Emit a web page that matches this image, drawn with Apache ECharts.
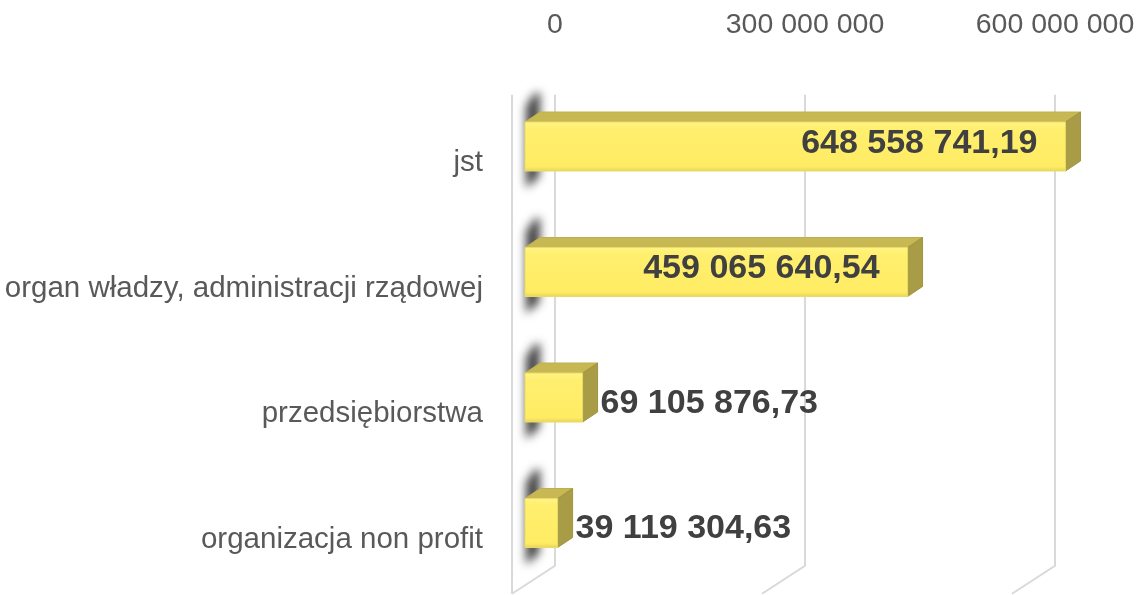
<!DOCTYPE html>
<html>
<head>
<meta charset="utf-8">
<script src="https://cdn.jsdelivr.net/npm/echarts@6/dist/echarts.min.js"></script>
<style>
  html, body { margin: 0; padding: 0; background: #fff; }
  #chart { width: 1137px; height: 595px; }
</style>
</head>
<body>
<div id="chart"></div>
<script>
// data
const categories = ['jst', 'organ władzy, administracji rządowej', 'przedsiębiorstwa', 'organizacja non profit'];
const values = [648558741.19, 459065640.54, 69105876.73, 39119304.63];
const tickValues = [0, 300000000, 600000000, 900000000];

const FONT = '"Liberation Sans", Arial, sans-serif';

function fmt(v, dec) {
	const parts = v.toFixed(dec).split('.');
	const s = parts[0].replace(/\B(?=(\d{3})+(?!\d))/g, ' ');
	return parts[1] ? s + ',' + parts[1] : s;
}

// 3d look: front plane is shifted left of the back wall
const FRONT_DX = -30;
const DEPTH_X = 15, DEPTH_Y = -10;

function renderBar(params, api) {
	const cat = api.value(1);
	const end = api.coord([api.value(0), cat]);
	const start = api.coord([0, cat]);
	const yc = end[1];
	const h = 24.5;
	const x0 = start[0] + FRONT_DX;
	const x1 = end[0] + FRONT_DX;
	const yt = yc - h, yb = yc + h;
	const wide = (x1 - x0) > 200;
	const off = -2000; // shape drawn off screen, only its blurred shadow shows
	return {
		type: 'group',
		children: [
			{
				// shadow cast on the left wall
				type: 'polygon',
				shape: { points: [[x0 + 1 + off, yt - 16], [x0 + 10 + off, yt - 29], [x0 + 15 + off, yt - 29], [x0 + 14 + off, yb + 6], [x0 + 1 + off, yb + 17]] },
				style: { fill: '#333', shadowBlur: 10, shadowColor: 'rgba(0,0,0,0.75)', shadowOffsetX: -off }
			},
			{
				type: 'polygon',
				shape: { points: [[x0, yt], [x0 + DEPTH_X, yt + DEPTH_Y], [x1 + DEPTH_X, yt + DEPTH_Y], [x1, yt]] },
				style: { fill: '#C7B854', stroke: '#BFAF4C', lineWidth: 1 }
			},
			{
				type: 'polygon',
				shape: { points: [[x1, yt], [x1 + DEPTH_X, yt + DEPTH_Y], [x1 + DEPTH_X, yb + DEPTH_Y], [x1, yb]] },
				style: { fill: '#A89C46', stroke: '#A0943F', lineWidth: 1 }
			},
			{
				type: 'rect',
				shape: { x: x0, y: yt, width: x1 - x0, height: yb - yt },
				style: {
					fill: {
						type: 'linear', x: 0, y: 0, x2: 0, y2: 1,
						colorStops: [
							{ offset: 0, color: '#FFF385' },
							{ offset: 0.15, color: '#FFEF6E' },
							{ offset: 0.9, color: '#FFEC64' },
							{ offset: 1, color: '#E6D35A' }
						]
					},
					stroke: '#EADB66', lineWidth: 1
				}
			},
			{
				type: 'text',
				x: wide ? x1 - 28 : x1 + DEPTH_X + 3,
				y: wide ? yc - 3 : yc + 6,
				style: {
					text: fmt(api.value(0), 2),
					fill: '#404040',
					font: 'bold 34px ' + FONT,
					align: wide ? 'right' : 'left',
					verticalAlign: 'middle'
				}
			}
		]
	};
}

function renderGrid(params, api) {
	const cs = params.coordSys;
	const x = api.coord([api.value(0), 0])[0];
	const top = cs.y + 11;
	const bottom = cs.y + cs.height - 20;
	const style = { stroke: '#D9D9D9', lineWidth: 2, fill: null };
	const children = [
		{ type: 'polyline', shape: { points: [[x, top], [x, bottom], [x - 43, bottom + 28]] }, style: style }
	];
	if (api.value(0) === 0) {
		children.push({ type: 'line', shape: { x1: x - 43, y1: top, x2: x - 43, y2: bottom + 28 }, style: style });
	}
	return { type: 'group', children: children };
}

const chart = echarts.init(document.getElementById('chart'));
chart.setOption({
	animation: false,
	grid: { left: 555, top: 83.75, height: 502, width: 750, containLabel: false, outerBoundsMode: 'none' },
	xAxis: {
		type: 'value',
		position: 'top',
		min: 0,
		max: 900000000,
		interval: 300000000,
		axisLine: { show: false },
		axisTick: { show: false },
		splitLine: { show: false },
		axisLabel: {
			margin: 44,
			color: '#595959',
			fontSize: 28.5,
			fontFamily: FONT,
			formatter: v => fmt(v, 0)
		}
	},
	yAxis: {
		type: 'category',
		inverse: true,
		data: categories,
		axisLine: { show: false },
		axisTick: { show: false },
		axisLabel: {
			margin: 72,
			color: '#595959',
			fontSize: 29.5,
			fontFamily: FONT,
			verticalAlign: 'top',
			lineHeight: 33
		}
	},
	series: [
		{
			type: 'custom',
			renderItem: renderGrid,
			data: tickValues.map(v => [v]),
			encode: { x: 0 },
			silent: true,
			z: 1
		},
		{
			type: 'custom',
			renderItem: renderBar,
			data: values.map((v, i) => [v, i]),
			encode: { x: 0, y: 1 },
			z: 2
		}
	]
});
</script>
</body>
</html>
